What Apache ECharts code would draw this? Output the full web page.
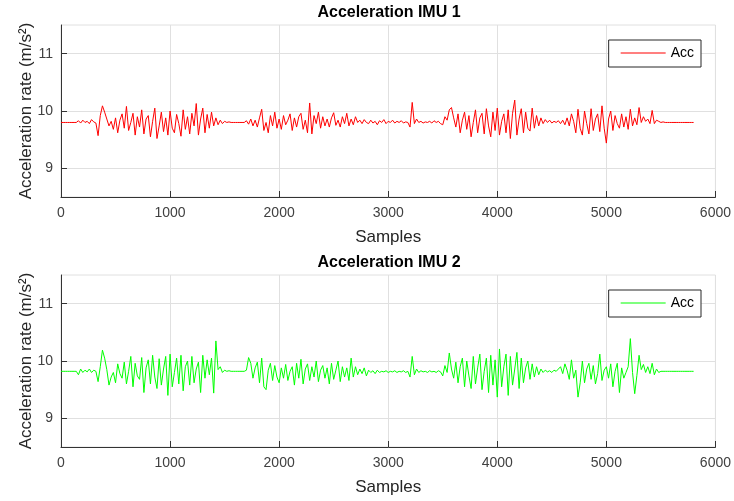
<!DOCTYPE html>
<html><head><meta charset="utf-8">
<script src="https://cdn.jsdelivr.net/npm/echarts@6/dist/echarts.min.js"></script>
<style>html,body{margin:0;padding:0;background:#fff}#c{width:734px;height:501px}</style>
</head><body><div id="c"></div>
<script>
const sampleStep = 20;
const titles = ['Acceleration IMU 1', 'Acceleration IMU 2'];
const seriesNames = ['IMU1', 'IMU2'];
const legendLabel = 'Acc';
const xTicks = [0, 1000, 2000, 3000, 4000, 5000, 6000];
const yTicks = [9, 10, 11];
const xLabel = 'Samples';
const yLabel = 'Acceleration rate (m/s²)';

const imu1 = [
9.80,9.80,9.80,9.80,9.80,9.80,9.80,9.80,9.83,9.79,
9.84,9.80,9.82,9.78,9.85,9.81,9.79,9.57,9.92,10.09,
9.98,9.86,9.74,9.82,9.68,9.88,9.62,9.84,9.95,9.70,
10.08,9.66,9.80,9.96,9.58,9.90,9.72,10.02,9.60,9.86,
9.92,9.55,9.82,10.05,9.52,9.74,9.98,9.64,9.88,9.58,
10.00,9.70,9.62,9.94,9.78,9.56,10.02,9.68,9.90,9.60,
9.96,9.74,10.13,9.58,9.86,10.05,9.62,9.94,9.70,9.98,
9.74,9.88,9.76,9.84,9.78,9.82,9.80,9.81,9.80,9.80,
9.80,9.80,9.80,9.80,9.80,9.83,9.77,9.86,9.74,9.84,
9.72,9.88,10.03,9.66,9.80,9.62,9.92,9.74,9.98,9.70,
9.86,9.68,9.92,9.76,9.84,9.95,9.66,9.88,9.72,9.90,
9.96,9.68,9.84,9.62,10.14,9.60,9.92,9.78,9.98,9.70,
9.90,9.74,9.86,9.72,9.88,9.97,9.75,9.84,9.72,9.90,
9.78,9.96,9.74,9.86,9.76,9.90,9.80,9.84,9.78,9.85,
9.80,9.78,9.84,9.79,9.82,9.76,9.83,9.80,9.85,9.78,
9.82,9.80,9.84,9.79,9.82,9.80,9.83,9.79,9.81,9.80,
9.72,10.15,9.78,9.86,9.80,9.82,9.79,9.81,9.80,9.82,
9.79,9.83,9.80,9.82,9.78,9.76,9.90,9.84,10.02,10.06,
9.88,9.72,9.95,9.62,9.84,9.98,9.68,9.92,9.55,9.80,
10.02,9.62,9.88,9.96,9.60,10.04,9.74,9.55,9.98,9.66,
10.05,9.58,9.82,9.95,9.62,10.02,9.52,9.96,10.19,9.58,
9.86,10.04,9.62,9.98,9.70,9.65,10.05,9.70,9.92,9.74,
9.88,9.78,9.85,9.80,9.84,9.79,9.82,9.80,9.83,9.78,
9.84,9.76,9.88,9.74,9.95,9.82,9.62,10.03,9.70,9.58,
10.00,9.78,9.60,10.04,9.66,9.86,9.95,9.64,10.09,9.70,
9.44,9.86,10.00,9.66,9.92,9.78,9.70,9.95,9.72,9.90,
9.68,10.03,9.74,9.88,9.76,10.06,9.80,9.90,9.82,9.86,
9.78,10.01,9.78,9.84,9.82,9.80,9.81,9.80,9.80,9.80,
9.80,9.80,9.80,9.80,9.80,9.80,9.80,9.80,9.80,9.80,
9.80
];

const imu2 = [
9.82,9.82,9.82,9.82,9.82,9.82,9.82,9.82,9.76,9.86,
9.80,9.84,9.81,9.86,9.80,9.84,9.82,9.64,9.90,10.19,
10.05,9.85,9.58,9.72,9.80,9.62,9.95,9.78,9.70,9.98,
9.60,9.82,10.08,9.55,9.96,9.74,9.68,10.06,9.45,9.88,
10.02,9.60,10.10,9.72,9.52,10.04,9.58,9.86,10.08,9.40,
10.12,9.55,9.80,10.05,9.60,10.10,9.48,9.90,10.00,9.58,
10.08,9.62,9.86,9.98,9.45,10.10,9.70,10.02,9.76,10.05,
9.44,10.35,9.85,9.90,9.80,9.84,9.82,9.83,9.82,9.82,
9.82,9.82,9.82,9.82,9.82,9.84,10.06,9.96,9.70,9.88,
9.98,9.62,10.05,9.55,9.50,9.84,9.96,9.66,9.92,9.72,
9.62,9.88,9.70,9.94,9.66,9.82,9.90,9.58,9.96,9.70,
10.03,9.60,9.86,9.95,9.66,9.90,9.72,10.00,9.64,9.84,
9.92,9.70,9.88,9.60,9.96,9.68,9.84,10.00,9.64,9.90,
9.72,9.88,9.66,10.05,9.72,9.90,9.76,9.86,9.78,9.88,
9.74,9.84,9.80,9.83,9.78,9.84,9.80,9.82,9.81,9.83,
9.80,9.82,9.81,9.83,9.80,9.82,9.81,9.83,9.80,9.82,
9.72,10.08,9.76,9.86,9.80,9.83,9.81,9.82,9.80,9.83,
9.81,9.82,9.80,9.83,9.81,9.74,9.92,9.80,10.14,9.86,
9.70,9.98,9.62,9.90,10.05,9.55,10.00,9.74,9.52,10.08,
9.60,9.88,10.12,9.50,9.82,10.05,9.45,10.10,9.58,10.02,
9.37,10.21,9.55,9.90,10.12,9.40,10.08,9.58,9.86,10.15,
9.52,10.05,9.62,9.88,10.00,9.68,9.95,9.72,9.90,9.76,
9.86,9.80,9.84,9.81,9.83,9.80,9.84,9.82,9.86,9.90,
9.78,9.95,9.84,9.68,10.02,9.70,9.84,9.37,9.62,10.00,
9.62,9.86,9.96,9.68,9.92,9.60,9.78,10.12,9.66,9.84,
9.90,9.70,9.95,9.55,9.82,9.96,9.45,9.88,9.70,9.80,
9.90,10.39,9.80,9.43,9.75,10.10,9.85,9.94,9.80,9.90,
9.78,9.96,9.76,9.86,9.80,9.82,9.82,9.82,9.82,9.82,
9.82,9.82,9.82,9.82,9.82,9.82,9.82,9.82,9.82,9.82,
9.82
];

const colors = ['#ff0000', '#00ff00'];
const values = [imu1, imu2];

const FONT = '"Liberation Sans", Arial, Helvetica, sans-serif';
const gridTops = [25, 275];
const gridH = 172;
const axisColor = '#333333';
const gridColor = '#e0e0e0';

const chart = echarts.init(document.getElementById('c'), null, {renderer: 'canvas'});

const option = {
  animation: false,
  backgroundColor: '#ffffff',
  textStyle: {fontFamily: FONT},
  title: titles.map((t, k) => ({
    text: t, left: 389, top: gridTops[k] - 20, textAlign: 'center', padding: 0,
    textStyle: {fontSize: 16, fontWeight: 'bold', color: '#000', fontFamily: FONT}
  })),
  legend: seriesNames.map((n, k) => ({
    data: [{name: n, icon: 'rect'}], right: 33, top: gridTops[k] + 15,
    orient: 'horizontal',
    padding: [6, 7, 7, 12],
    itemWidth: 45, itemHeight: 1,
    backgroundColor: '#ffffff', borderColor: '#262626', borderWidth: 1,
    formatter: () => legendLabel,
    selectedMode: false,
    textStyle: {fontSize: 14, color: '#000', fontFamily: FONT, lineHeight: 14}
  })),
  grid: gridTops.map(t => ({
    left: 61, right: 18, top: t, height: gridH,
    show: true, borderColor: gridColor, borderWidth: 1, backgroundColor: '#ffffff'
  })),
  xAxis: gridTops.map((t, k) => ({
    type: 'value', gridIndex: k, min: 0, max: 6000, interval: 1000,
    name: xLabel, nameLocation: 'middle', nameGap: 32,
    nameTextStyle: {fontSize: 17, color: '#262626', fontFamily: FONT},
    axisLine: {show: true, onZero: false, lineStyle: {color: axisColor, width: 1}},
    axisTick: {show: true, inside: true, length: 6, lineStyle: {color: axisColor}},
    axisLabel: {fontSize: 14, color: '#404040', margin: 9, fontFamily: FONT,
      formatter: v => String(v)},
    splitLine: {show: true, lineStyle: {color: gridColor, width: 1}}
  })),
  yAxis: gridTops.map((t, k) => ({
    type: 'value', gridIndex: k, min: 8.5, max: 11.5,
    name: yLabel, nameLocation: 'middle', nameGap: 26, nameRotate: 90,
    nameMoveOverlap: false,
    nameTextStyle: {fontSize: 17, color: '#262626', fontFamily: FONT},
    axisLine: {show: true, onZero: false, lineStyle: {color: axisColor, width: 1}},
    axisTick: {show: true, inside: true, length: 6, customValues: yTicks, lineStyle: {color: axisColor}},
    axisLabel: {fontSize: 14, color: '#404040', margin: 8, customValues: yTicks, fontFamily: FONT,
      formatter: v => String(v)},
    splitLine: {show: true, lineStyle: {color: gridColor, width: 1}}
  })),
  series: values.map((arr, k) => ({
    type: 'line', name: seriesNames[k], xAxisIndex: k, yAxisIndex: k,
    data: arr.map((v, i) => [i * sampleStep, v]),
    symbol: 'none', showSymbol: false,
    lineStyle: {color: colors[k], width: 1},
    itemStyle: {color: colors[k]},
    emphasis: {disabled: true},
    silent: true
  }))
};
chart.setOption(option);
</script>
</body></html>
